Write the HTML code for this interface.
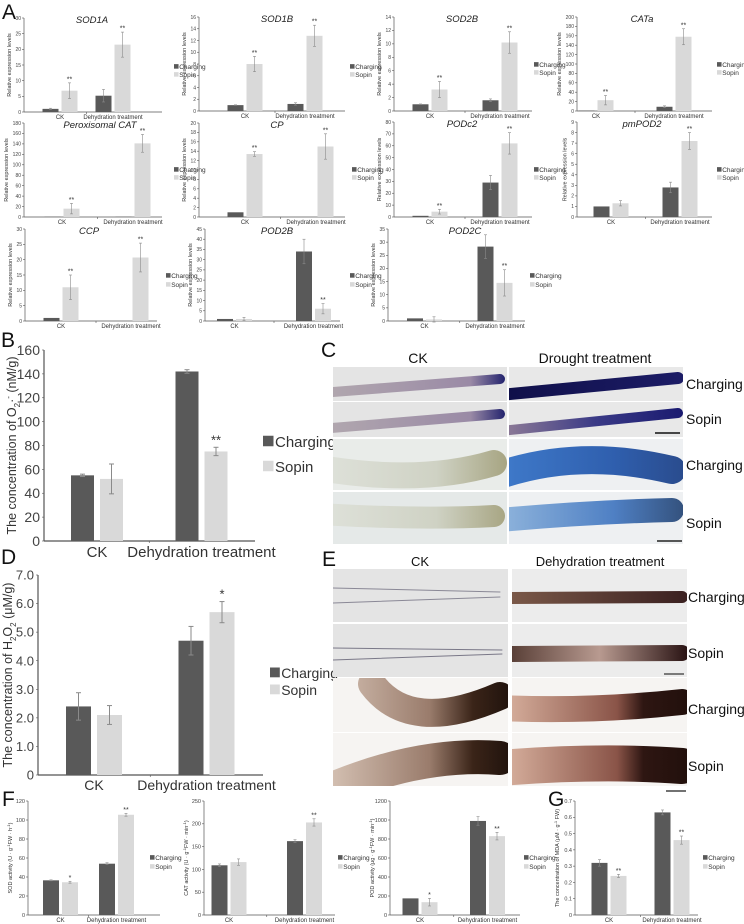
<!DOCTYPE html>
<html><head><meta charset="utf-8"><style>
body{margin:0;background:#fff;}
svg{display:block;font-family:"Liberation Sans",sans-serif;}
</style></head><body>
<svg id="fig" width="744" height="924" viewBox="0 0 744 924" xmlns="http://www.w3.org/2000/svg">
<defs id="defs">
<linearGradient id="gC1a" gradientUnits="userSpaceOnUse" x1="333" y1="0" x2="505" y2="0"><stop offset="0" stop-color="#b0a6ae"/><stop offset="0.8" stop-color="#9a8aa6"/><stop offset="1" stop-color="#24246e"/></linearGradient>
<linearGradient id="gC1b" gradientUnits="userSpaceOnUse" x1="509" y1="0" x2="683" y2="0"><stop offset="0" stop-color="#10104a"/><stop offset="1" stop-color="#1c1c66"/></linearGradient>
<linearGradient id="gC2b" gradientUnits="userSpaceOnUse" x1="509" y1="0" x2="683" y2="0"><stop offset="0" stop-color="#8a7896"/><stop offset="0.5" stop-color="#3a3a86"/><stop offset="1" stop-color="#1a1a70"/></linearGradient>
<linearGradient id="gC3a" gradientUnits="userSpaceOnUse" x1="333" y1="0" x2="505" y2="0"><stop offset="0" stop-color="#dde0d8"/><stop offset="0.6" stop-color="#cfd2c4"/><stop offset="1" stop-color="#a8a684"/></linearGradient>
<linearGradient id="gC3b" gradientUnits="userSpaceOnUse" x1="509" y1="0" x2="683" y2="0"><stop offset="0" stop-color="#3e78c8"/><stop offset="0.6" stop-color="#2f5fae"/><stop offset="1" stop-color="#2a4c8e"/></linearGradient>
<linearGradient id="gC4b" gradientUnits="userSpaceOnUse" x1="509" y1="0" x2="683" y2="0"><stop offset="0" stop-color="#8ab0da"/><stop offset="0.6" stop-color="#4f80c4"/><stop offset="1" stop-color="#34527e"/></linearGradient>
<linearGradient id="gE1" gradientUnits="userSpaceOnUse" x1="512" y1="0" x2="687" y2="0"><stop offset="0" stop-color="#7a5848"/><stop offset="1" stop-color="#3a2020"/></linearGradient>
<linearGradient id="gE2" gradientUnits="userSpaceOnUse" x1="512" y1="0" x2="687" y2="0"><stop offset="0" stop-color="#5a4038"/><stop offset="0.5" stop-color="#b89a90"/><stop offset="1" stop-color="#2a1414"/></linearGradient>
<linearGradient id="gE3a" gradientUnits="userSpaceOnUse" x1="333" y1="0" x2="508" y2="0"><stop offset="0" stop-color="#d2beb0"/><stop offset="0.55" stop-color="#9a7c6c"/><stop offset="0.8" stop-color="#3a2418"/><stop offset="1" stop-color="#22140e"/></linearGradient>
<linearGradient id="gE3b" gradientUnits="userSpaceOnUse" x1="512" y1="0" x2="687" y2="0"><stop offset="0" stop-color="#d2aa98"/><stop offset="0.6" stop-color="#8a5448"/><stop offset="0.75" stop-color="#2e1612"/><stop offset="1" stop-color="#22100c"/></linearGradient>
</defs>
</svg>
<script>
const NS='http://www.w3.org/2000/svg';
const svg=document.getElementById('fig');
const defs=document.getElementById('defs');
function mk(tag,attrs,parent){const e=document.createElementNS(NS,tag);for(const k in attrs)e.setAttribute(k,attrs[k]);(parent||svg).appendChild(e);return e;}
function txt(s,attrs,parent){const e=mk('text',attrs,parent);e.textContent=s;return e;}

const categories=["CK","Dehydration treatment"];
const seriesNames=["Charging","Sopin"];

// Panel A data
const sod1aTicks=[0,5,10,15,20,25,30];
const sod1aCharging=[1,5.2];const sod1aSopin=[6.8,21.5];const sod1aChErr=[0.2,2];const sod1aSoErr=[2.5,4];const sod1aStars=["**","**"];
const sod1bTicks=[0,2,4,6,8,10,12,14,16];
const sod1bCharging=[1,1.2];const sod1bSopin=[8,12.8];const sod1bChErr=[0.05,0.2];const sod1bSoErr=[1.3,1.8];const sod1bStars=["**","**"];
const sod2bTicks=[0,2,4,6,8,10,12,14];
const sod2bCharging=[1,1.6];const sod2bSopin=[3.2,10.2];const sod2bChErr=[0.05,0.2];const sod2bSoErr=[1.2,1.6];const sod2bStars=["**","**"];
const cataTicks=[0,20,40,60,80,100,120,140,160,180,200];
const cataCharging=[1,9];const cataSopin=[23,158];const cataChErr=[0,2];const cataSoErr=[10,17];const cataStars=["**","**"];
const pcatTicks=[0,20,40,60,80,100,120,140,160,180];
const pcatCharging=[0.5,0.5];const pcatSopin=[16,141];const pcatChErr=[0,0];const pcatSoErr=[10,17];const pcatStars=["**","**"];
const cpTicks=[0,2,4,6,8,10,12,14,16,18,20];
const cpCharging=[1,0];const cpSopin=[13.4,15];const cpChErr=[0,0];const cpSoErr=[0.5,2.7];const cpStars=["**","**"];
const podc2Ticks=[0,10,20,30,40,50,60,70,80];
const podc2Charging=[1,29];const podc2Sopin=[4.5,62];const podc2ChErr=[0,6];const podc2SoErr=[2,9];const podc2Stars=["**","**"];
const pmpodTicks=[0,1,2,3,4,5,6,7,8,9];
const pmpodCharging=[1,2.8];const pmpodSopin=[1.3,7.2];const pmpodChErr=[0,0.5];const pmpodSoErr=[0.25,0.8];const pmpodStars=["","**"];
const ccpTicks=[0,5,10,15,20,25,30];
const ccpCharging=[1,0];const ccpSopin=[11,20.7];const ccpChErr=[0,0];const ccpSoErr=[4,4.7];const ccpStars=["**","**"];
const pod2bTicks=[0,5,10,15,20,25,30,35,40,45];
const pod2bCharging=[1,34];const pod2bSopin=[1,6];const pod2bChErr=[0,6];const pod2bSoErr=[0.8,2.5];const pod2bStars=["","**"];
const pod2cTicks=[0,5,10,15,20,25,30,35];
const pod2cCharging=[1,28.3];const pod2cSopin=[0.6,14.5];const pod2cChErr=[0,4.5];const pod2cSoErr=[1,5];const pod2cStars=["","**"];
// Panel B
const bTicks=[0,20,40,60,80,100,120,140,160];
const bCharging=[55,142];const bSopin=[52,75];const bChErr=[1,1.5];const bSoErr=[12.5,3.5];const bStars=["","**"];
// Panel D
const dTicks=[0,1,2,3,4,5,6,7];const dTickLabels=["0","1.0","2.0","3.0","4.0","5.0","6.0","7.0"];
const dCharging=[2.4,4.7];const dSopin=[2.1,5.7];const dChErr=[0.48,0.5];const dSoErr=[0.33,0.37];const dStars=["","*"];
// Panel F
const sodTicks=[0,20,40,60,80,100,120];
const sodCharging=[36.5,54];const sodSopin=[34.5,105.5];const sodChErr=[0.5,1];const sodSoErr=[1,1.5];const sodStars=["*","**"];
const catTicks=[0,50,100,150,200,250];
const catCharging=[109,162];const catSopin=[116,203];const catChErr=[3,3];const catSoErr=[7,8];const catStars=["","**"];
const podTicks=[0,200,400,600,800,1000,1200];
const podCharging=[175,990];const podSopin=[135,830];const podChErr=[0,45];const podSoErr=[40,40];const podStars=["*","**"];
// Panel G
const mdaTicks=[0,0.1,0.2,0.3,0.4,0.5,0.6,0.7];const mdaTickLabels=["0","0.1","0.2","0.3","0.4","0.5","0.6","0.7"];
const mdaCharging=[0.32,0.63];const mdaSopin=[0.24,0.46];const mdaChErr=[0.02,0.015];const mdaSoErr=[0.01,0.025];const mdaStars=["**","**"];

function chart(c){
  const g=mk('g',{});
  
  
  const max=c.ticks[c.ticks.length-1];
  const y=v=>c.bot-v/max*(c.bot-c.top);
  const fs=c.fs, dark='#595959', light='#d9d9d9', ax='#555';
  const ya=mk('line',{x1:c.x0,y1:c.top,x2:c.x0,y2:c.bot,stroke:ax,'stroke-width':c.big?1.2:0.7},g);
  
  const xa=mk('line',{x1:c.x0,y1:c.bot,x2:c.x1,y2:c.bot,stroke:ax,'stroke-width':c.big?1.2:0.7},g);
  
  let maxLen=0;
  c.ticks.forEach((t,i)=>{
    const yy=y(t);
    mk('line',{x1:c.x0-2,y1:yy,x2:c.x0,y2:yy,stroke:ax,'stroke-width':0.6},g);
    const lbl=c.tickLabels?c.tickLabels[i]:String(t);
    maxLen=Math.max(maxLen,lbl.length);
    const tt=txt(lbl,{x:c.x0-(c.big?4:3),y:yy+fs*0.35,'font-size':fs,'text-anchor':'end',fill:'#444'},g);
    
  });
  mk('line',{x1:(c.cx[0]+c.cx[1])/2,y1:c.bot,x2:(c.cx[0]+c.cx[1])/2,y2:c.bot+2,stroke:ax,'stroke-width':0.6},g);
  categories.forEach((cat,i)=>{
    const ct=txt(cat,{x:c.cx[i],y:c.bot+c.cfs+1,'font-size':c.cfs,'text-anchor':'middle',fill:'#333'},g);
    
  });
  const half=c.gap/2;
  for(let i=0;i<2;i++){
    const vals=[[c.ch[i],c.chE[i],dark,-1],[c.so[i],c.soE[i],light,1]];
    vals.forEach((v,j)=>{
      const x=v[3]<0?c.cx[i]-half-c.bw:c.cx[i]+half;
      const b=mk('rect',{x:x,y:y(v[0]),width:c.bw,height:c.bot-y(v[0]),fill:v[2]},g);
      
      
      if(v[1]>0){
        const mx=x+c.bw/2, cw=c.big?2.5:1.5;
        mk('line',{x1:mx,y1:y(v[0]+v[1]),x2:mx,y2:y(Math.max(0,v[0]-v[1])),stroke:'#8a8a8a','stroke-width':c.big?1:0.6},g);
        mk('line',{x1:mx-cw,y1:y(v[0]+v[1]),x2:mx+cw,y2:y(v[0]+v[1]),stroke:'#8a8a8a','stroke-width':c.big?1:0.6},g);
        mk('line',{x1:mx-cw,y1:y(v[0]-v[1]),x2:mx+cw,y2:y(v[0]-v[1]),stroke:'#8a8a8a','stroke-width':c.big?1:0.6},g);
      }
      if(j===1&&c.stars[i]){
        const st=txt(c.stars[i],{x:x+c.bw/2,y:y(v[0]+v[1])-(c.big?3:1.5),'font-size':c.big?13:7,'text-anchor':'middle',fill:'#333'},g);
        
      }
    });
  }
  if(c.title){
    const tt=txt(c.title,{x:c.tx,y:c.top+5,'font-size':9.5,'font-style':'italic','text-anchor':'middle',fill:'#222'},g);
    
  }
  const ytx=c.ytx!==undefined?c.ytx:c.x0-(5+maxLen*fs*0.56+2.5);
  const yt=txt('',{transform:`translate(${ytx},${(c.top+c.bot)/2}) rotate(-90)`,'font-size':c.yfs,'text-anchor':'middle',fill:'#333'},g);
  
  c.ytitle.forEach(p=>{const s=mk('tspan',p[1]||{},yt);s.textContent=p[0];});
  const ls=c.lfs;
  seriesNames.forEach((n,i)=>{
    const ly=c.ly[i];
    const sq=mk('rect',{x:c.lx,y:ly-ls*0.75,width:ls*0.7,height:ls*0.7,fill:i?light:dark},g);
    
    const lt=txt(n,{x:c.lx+ls*0.8,y:ly,'font-size':ls,fill:'#333'},g);
    
  });
}
const rel=[["Relative expression levels"]];
function small(name,title,tx,x0,x1,top,bot,cx,ticks,ch,so,chE,soE,stars,lx,ly){
  chart({name,title,tx,x0,x1,top,bot,cx,bw:16,gap:3,ticks,ch,so,chE,soE,stars,fs:5,cfs:6,yfs:5.5,ytitle:rel,lfs:6.5,lx,ly});
}
small('chart-sod1a','SOD1A',92,24,162,18,112,[60,113],sod1aTicks,sod1aCharging,sod1aSopin,sod1aChErr,sod1aSoErr,sod1aStars,174,[69,77]);
small('chart-sod1b','SOD1B',277,199,345,17,111,[245,305],sod1bTicks,sod1bCharging,sod1bSopin,sod1bChErr,sod1bSoErr,sod1bStars,350,[69,77]);
small('chart-sod2b','SOD2B',462,394,532,17,111,[430,500],sod2bTicks,sod2bCharging,sod2bSopin,sod2bChErr,sod2bSoErr,sod2bStars,534,[67,75]);
small('chart-cata','CATa',642,577,712,17,111,[596,674],cataTicks,cataCharging,cataSopin,cataChErr,cataSoErr,cataStars,717,[67,75]);
small('chart-peroxisomal-cat','Peroxisomal CAT',100,24,162,123,217,[62,133],pcatTicks,pcatCharging,pcatSopin,pcatChErr,pcatSoErr,pcatStars,174,[172,180]);
small('chart-cp','CP',277,199,345,123,217,[245,316],cpTicks,cpCharging,cpSopin,cpChErr,cpSoErr,cpStars,352,[172,180]);
small('chart-podc2','PODc2',462,394,532,122,217,[430,500],podc2Ticks,podc2Charging,podc2Sopin,podc2ChErr,podc2SoErr,podc2Stars,534,[172,180]);
small('chart-pmpod2','pmPOD2',642,577,712,122,217,[611,680],pmpodTicks,pmpodCharging,pmpodSopin,pmpodChErr,pmpodSoErr,pmpodStars,717,[172,180]);
small('chart-ccp','CCP',89,25,157,229,321,[61,131],ccpTicks,ccpCharging,ccpSopin,ccpChErr,ccpSoErr,ccpStars,166,[278,287]);
small('chart-pod2b','POD2B',277,205,340,229,321,[234.5,313.5],pod2bTicks,pod2bCharging,pod2bSopin,pod2bChErr,pod2bSoErr,pod2bStars,350,[278,287]);
small('chart-pod2c','POD2C',465,388,525,229,321,[424.5,495],pod2cTicks,pod2cCharging,pod2cSopin,pod2cChErr,pod2cSoErr,pod2cStars,530,[278,287]);

chart({name:'chart-superoxide',x0:44,x1:255,top:350,bot:541,cx:[97,201.5],bw:23,gap:6,ticks:bTicks,ch:bCharging,so:bSopin,chE:bChErr,soE:bSoErr,stars:bStars,fs:14,cfs:15,yfs:12.5,ytx:16,big:true,
  ytitle:[["The concentration of O"],["2",{'font-size':8,dy:4}],["·",{dy:-4}],["-",{'font-size':8,dy:-5}],[" (nM/g)",{dy:5}]],lfs:15,lx:263,ly:[447,472]});
chart({name:'chart-hydrogen-peroxide',x0:38,x1:263,top:575,bot:775,cx:[94,206.5],bw:25,gap:6,ticks:dTicks,tickLabels:dTickLabels,ch:dCharging,so:dSopin,chE:dChErr,soE:dSoErr,stars:dStars,fs:13,cfs:14,yfs:12.5,ytx:12,big:true,
  ytitle:[["The concentration of H"],["2",{'font-size':8,dy:4}],["O",{dy:-4}],["2",{'font-size':8,dy:4}],[" (μM/g)",{dy:-4}]],lfs:14,lx:270,ly:[678,695]});
function fchart(name,x0,x1,cx,ticks,labels,ch,so,chE,soE,stars,yt,lx){
  chart({name,x0,x1,top:801,bot:915,cx,bw:16,gap:3,ticks,tickLabels:labels,ch,so,chE,soE,stars,fs:5.5,cfs:6,yfs:5.5,ytx:x0-16,ytitle:yt,lfs:6.5,lx,ly:[860,869]});
}
fchart('chart-sod-activity',28,160,[60.5,116.5],sodTicks,null,sodCharging,sodSopin,sodChErr,sodSoErr,sodStars,[["SOD activity (U · g"],["-1",{'font-size':4,dy:-2}],["FW · h",{dy:2}],["-1",{'font-size':4,dy:-2}],[")",{dy:2}]],150);
fchart('chart-cat-activity',204,335,[229,304.5],catTicks,null,catCharging,catSopin,catChErr,catSoErr,catStars,[["CAT activity (U · g"],["-1",{'font-size':4,dy:-2}],["FW · min",{dy:2}],["-1",{'font-size':4,dy:-2}],[")",{dy:2}]],338);
fchart('chart-pod-activity',390,520,[420,487.5],podTicks,null,podCharging,podSopin,podChErr,podSoErr,podStars,[["POD activity (μg · g"],["-1",{'font-size':4,dy:-2}],["FW · min",{dy:2}],["-1",{'font-size':4,dy:-2}],[")",{dy:2}]],524);
fchart('chart-mda',575,698,[609,672],mdaTicks,mdaTickLabels,mdaCharging,mdaSopin,mdaChErr,mdaSoErr,mdaStars,[["The concentration of MDA (μM · g"],["-1",{'font-size':4,dy:-2}],[" FW)",{dy:2}]],703);

[["A",2,19],["B",1,347],["C",321,357],["D",1,564],["E",322,566],["F",2,806],["G",548,806]].forEach(p=>{
  const t=txt(p[0],{x:p[1],y:p[2],'font-size':21,fill:'#111'});
  
  
});

let clipN=0;
function cell(name,x,y,w,h,bg){
  const id='clip'+(clipN++);
  const cp=mk('clipPath',{id},defs);
  mk('rect',{x,y,width:w,height:h},cp);
  const g=mk('g',{'clip-path':`url(#${id})`});
  
  
  mk('rect',{x,y,width:w,height:h,fill:bg},g);
  return g;
}
function root(g,d,w,stroke){const p=mk('path',{d,fill:'none',stroke,'stroke-width':w,'stroke-linecap':'round'},g);return p;}
function label(s,x,y,fs,anchor){const t=txt(s,{x,y,'font-size':fs,fill:'#111','text-anchor':anchor||'start'});return t;}
function scalebar(x1,x2,y,c){const l=mk('line',{x1,y1:y,x2,y2:y,stroke:c,'stroke-width':1.6});}
let g;
g=cell('photo-c-ck-charging-1',333,367,174,34,'#e4e4e4');
root(g,'M 320 393 L 500 379',10,'url(#gC1a)');
g=cell('photo-c-drought-charging-1',509,367,174,34,'#e8e8e8');
root(g,'M 500 395 L 678 378',12,'url(#gC1b)');
g=cell('photo-c-ck-sopin-1',333,402,174,35,'#e4e4e4');
root(g,'M 320 429 L 500 414',10,'url(#gC1a)');
g=cell('photo-c-drought-sopin-1',509,402,174,35,'#e8e8e8');
root(g,'M 500 431 L 678 413',10,'url(#gC2b)');
scalebar(655,680,433,'#111');
g=cell('photo-c-ck-charging-2',333,439,174,51,'#e9ece9');
root(g,'M 320 468 Q 420 485 494 463',26,'url(#gC3a)');
g=cell('photo-c-drought-charging-2',509,439,174,51,'#eef0f2');
root(g,'M 500 475 Q 580 448 672 470',28,'url(#gC3b)');
g=cell('photo-c-ck-sopin-2',333,492,174,52,'#e5e9e8');
root(g,'M 320 514 Q 420 520 494 516',22,'url(#gC3a)');
g=cell('photo-c-drought-sopin-2',509,492,174,52,'#eef0f2');
root(g,'M 500 520 Q 590 512 672 510',24,'url(#gC4b)');
scalebar(657,682,541,'#222');
label('CK',418,363,14,'middle');label('Drought treatment',595,363,14,'middle');
label('Charging',686,389,14);label('Sopin',686,424,14);label('Charging',686,470,14);label('Sopin',686,528,14);
g=cell('photo-e-ck-charging-1',333,569,175,53,'#e4e4e4');
root(g,'M 333 588 L 500 592',1,'#8a8896');root(g,'M 333 603 L 500 597',1,'#8a8896');
g=cell('photo-e-dehyd-charging-1',512,569,175,53,'#ececec');
root(g,'M 505 598 L 682 597',12,'url(#gE1)');
g=cell('photo-e-ck-sopin-1',333,624,175,53,'#e4e4e4');
root(g,'M 333 648 L 502 650',1,'#7a7888');root(g,'M 333 660 L 502 654',1,'#7a7888');
g=cell('photo-e-dehyd-sopin-1',512,624,175,53,'#ececec');
root(g,'M 505 654 L 682 653',16,'url(#gE2)');
scalebar(664,684,674,'#555');
g=cell('photo-e-ck-charging-2',333,678,175,54,'#f6f4f2');
root(g,'M 372 684 Q 410 735 500 696',28,'url(#gE3a)');
g=cell('photo-e-dehyd-charging-2',512,678,175,54,'#f6f4f2');
root(g,'M 500 708 Q 590 712 682 702',26,'url(#gE3b)');
g=cell('photo-e-ck-sopin-2',333,733,175,53,'#f6f4f2');
root(g,'M 330 790 Q 420 752 500 758',34,'url(#gE3a)');
g=cell('photo-e-dehyd-sopin-2',512,733,175,53,'#f6f4f2');
root(g,'M 500 768 Q 600 760 682 766',36,'url(#gE3b)');
scalebar(666,686,791,'#444');
label('CK',420,566,13,'middle');label('Dehydration treatment',600,566,13,'middle');
label('Charging',688,602,14);label('Sopin',688,658,14);label('Charging',688,714,14);label('Sopin',688,771,14);
</script>
</body></html>
